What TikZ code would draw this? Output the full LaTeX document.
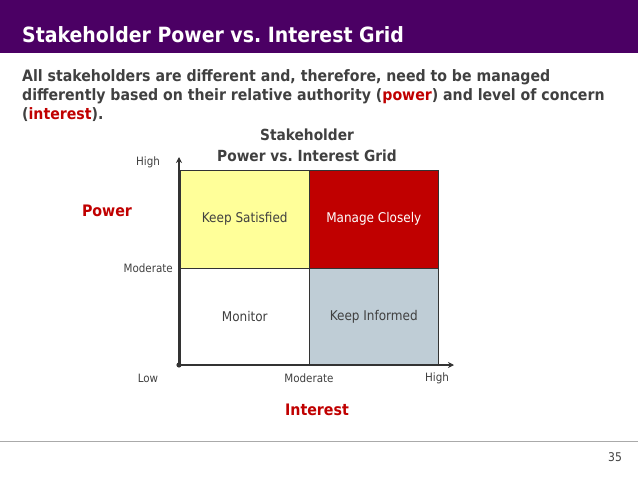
\documentclass[tikz,border=0pt]{standalone}
\usepackage{fontspec}
\setmainfont{DejaVu Sans Condensed}
\usetikzlibrary{arrows.meta}
\frenchspacing

\definecolor{barpurple}{RGB}{75,0,100}
\definecolor{accentred}{RGB}{192,0,0}
\definecolor{textgray}{RGB}{64,64,64}
\definecolor{axisgray}{RGB}{51,51,51}
\definecolor{satisfiedyellow}{RGB}{255,255,153}
\definecolor{informedblue}{RGB}{191,205,214}
\definecolor{rulegray}{RGB}{170,170,170}

\tikzset{
  cell/.style={draw=axisgray, line width=0.6pt, anchor=north west, inner sep=0pt,
    minimum width=129pt, minimum height=97.5pt, font=\fontsize{13.4}{16}\selectfont},
  lbl/.style={text=textgray, inner sep=0pt, font=\fontsize{11.5}{13}\selectfont},
  axisname/.style={text=accentred, inner sep=0pt, font=\bfseries\fontsize{15.8}{19}\selectfont},
  intro/.style={anchor=base west, text=textgray, inner sep=0pt, font=\bfseries\fontsize{15.7}{19}\selectfont},
}

\begin{document}
\begin{tikzpicture}[x=1pt, y=-1pt]
\useasboundingbox (0,0) rectangle (638,479);

% title bar
\fill[barpurple] (0,0) rectangle (638,53);
\node[anchor=base west, text=white, inner sep=0pt, font=\bfseries\fontsize{21}{25}\selectfont] (title) at (22,42) {Stakeholder Power vs. Interest Grid};

% intro text
\node[intro] (intro1) at (22,81) {All stakeholders are different and, therefore, need to be managed};
\node[intro] (intro2) at (22,100) {differently based on their relative authority (\textcolor{accentred}{power}) and level of concern};
\node[intro] (intro3) at (22,119) {(\textcolor{accentred}{interest}).};

% chart heading
\node[anchor=base, text=textgray, inner sep=0pt, font=\bfseries\fontsize{15.3}{18}\selectfont] (head1) at (307,140) {Stakeholder};
\node[anchor=base, text=textgray, inner sep=0pt, font=\bfseries\fontsize{15.3}{18}\selectfont] (head2) at (307,161) {Power vs. Interest Grid};

% the four quadrants
\node[cell, fill=satisfiedyellow, text=textgray] (satisfied) at (180,170) {Keep Satisfied};
\node[cell, fill=accentred, text=white] (closely) at (309,170) {Manage Closely};
\node[cell, fill=white, text=textgray] (monitor) at (180,267.5) {Monitor};
\node[cell, fill=informedblue, text=textgray] (informed) at (309,267.5) {Keep Informed};

% axes
\coordinate (origin) at (179,365);
\coordinate (ytip) at (179,157);
\coordinate (xtip) at (454,365);
\draw[axisgray, line width=2.8pt, -{Stealth[length=6pt, width=6pt]}] (origin) -- (ytip);
\draw[axisgray, line width=2.8pt, -{Stealth[length=6pt, width=6pt]}] (origin) -- (xtip);
\fill[axisgray] (origin) circle (2.6);

% axis labels
\node[lbl] (yhigh) at (148,162) {High};
\node[lbl, anchor=east] (ymod) at (173,268) {Moderate};
\node[lbl] (xlow) at (148,378) {Low};
\node[lbl] (xmod) at (309,378) {Moderate};
\node[lbl] (xhigh) at (437,378) {High};
\node[axisname] (power) at (107,211) {Power};
\node[axisname] (interest) at (317,410) {Interest};

% footer
\draw[rulegray, line width=1pt] (0,441) -- (638,441);
\node[lbl, font=\fontsize{12}{14}\selectfont] (pagenum) at (615,457) {35};
\end{tikzpicture}
\end{document}
